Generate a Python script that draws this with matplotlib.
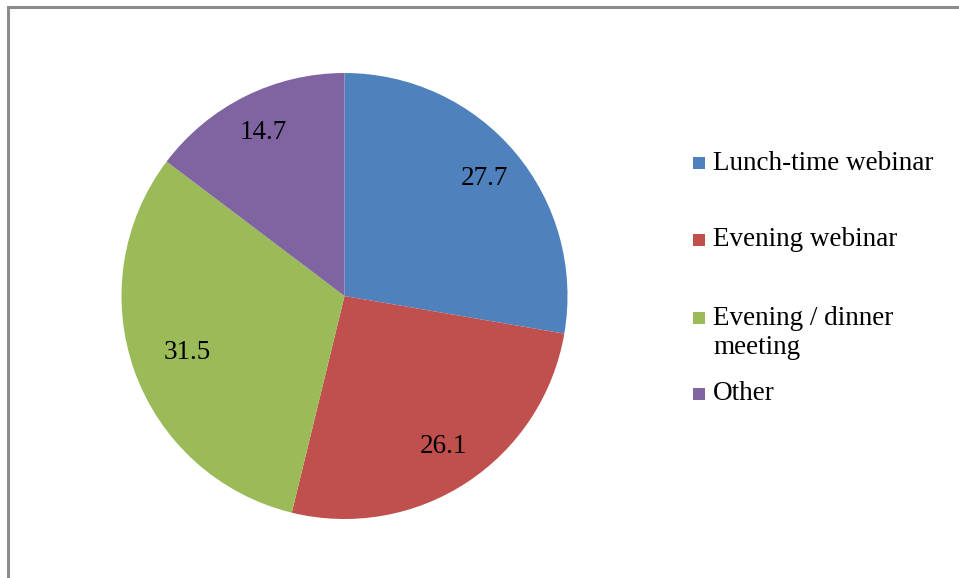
import matplotlib
matplotlib.use("Agg")
import matplotlib.pyplot as plt
from matplotlib.patches import Rectangle
import numpy as np

categories = ["Lunch-time webinar", "Evening webinar", "Evening / dinner\nmeeting", "Other"]
values = [27.7, 26.1, 31.5, 14.7]
colors = ["#4F81BD", "#C0504D", "#9BBB59", "#8064A2"]

W, H = 959, 578
fig = plt.figure(figsize=(W / 100, H / 100), dpi=100)
plt.rcParams['font.family'] = ['Liberation Serif', 'DejaVu Serif']
FS = 19.5

# chart frame
fig.patches.append(Rectangle((8 / W, -0.1), 1.2, (H - 7) / H + 0.1, transform=fig.transFigure,
                             fill=False, edgecolor="#8C8C8C", linewidth=2.2))

cx, cy, r = 344.5, 296, 223
ax = fig.add_axes([(cx - r) / W, (H - cy - r) / H, 2 * r / W, 2 * r / H])
wedges, _ = ax.pie(values, colors=colors, startangle=90, counterclock=False,
                   radius=1.0, wedgeprops=dict(linewidth=0))
ax.set_xlim(-1, 1)
ax.set_ylim(-1, 1)
ax.set_aspect("equal")
ax.axis("off")

label_dist = [0.82, 0.81, 0.75, 0.82]
for w, v, d in zip(wedges, values, label_dist):
    ang = np.deg2rad((w.theta1 + w.theta2) / 2)
    ax.text(d * np.cos(ang), d * np.sin(ang), f"{v:.1f}", ha="center", va="center",
            fontsize=FS, color="black")

# legend
leg_y = [163, 240, 318, 394]
for lab, col, y in zip(categories, colors, leg_y):
    fig.patches.append(Rectangle((693 / W, (H - y - 6) / H), 12 / W, 12 / H,
                                 transform=fig.transFigure, facecolor=col, edgecolor="none"))
    if "\n" in lab:
        fig.text(713 / W, (H - y - 15) / H, lab, ha="left", va="center", fontsize=FS,
                 linespacing=1.22)
    else:
        fig.text(713 / W, (H - y) / H, lab, ha="left", va="center", fontsize=FS)

fig.savefig("out.png", dpi=100)
